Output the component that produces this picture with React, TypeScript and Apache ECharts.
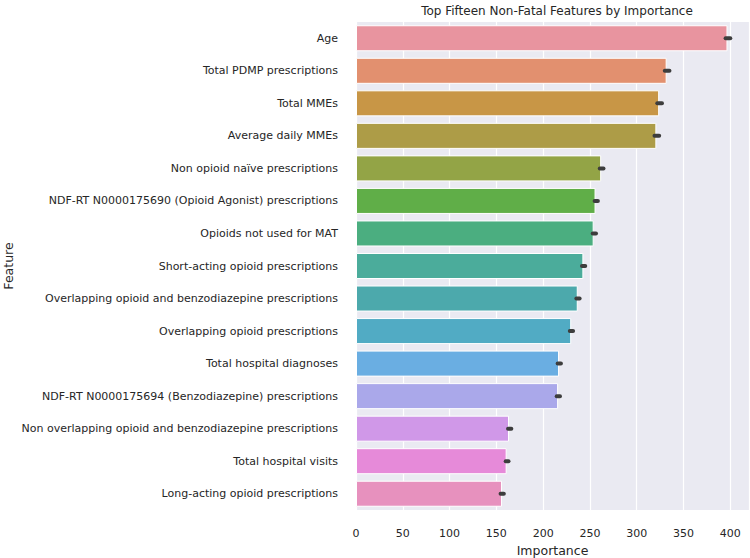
import React, { useEffect, useRef } from "react";
import * as echarts from "echarts";

const features: string[] = [
  "Age",
  "Total PDMP prescriptions",
  "Total MMEs",
  "Average daily MMEs",
  "Non opioid naïve prescriptions",
  "NDF-RT N0000175690 (Opioid Agonist) prescriptions",
  "Opioids not used for MAT",
  "Short-acting opioid prescriptions",
  "Overlapping opioid and benzodiazepine prescriptions",
  "Overlapping opioid prescriptions",
  "Total hospital diagnoses",
  "NDF-RT N0000175694 (Benzodiazepine) prescriptions",
  "Non overlapping opioid and benzodiazepine prescriptions",
  "Total hospital visits",
  "Long-acting opioid prescriptions",
];

const importance: number[] = [397, 332, 324, 321, 262, 256, 254, 243, 237, 230, 217, 216, 163.5, 161, 156];
const ciLow: number[] = [395, 330, 322, 319, 260.5, 255, 253, 241.5, 235.5, 228.5, 215.5, 214.5, 162.5, 160, 154.5];
const ciHigh: number[] = [400, 335, 327, 324, 264.5, 258.5, 256.5, 245, 239, 232, 219, 218, 166, 163, 158];

const barColors: string[] = [
  "#e8949f", "#e2906f", "#c89646", "#ad9c47", "#93a446",
  "#60ae48", "#4bae80", "#4bac9b", "#4ca9ac", "#51abc4",
  "#6aaee2", "#aaa8ea", "#d098e8", "#e68ad9", "#e791be",
];

const xTicks = { min: 0, max: 420, interval: 50 };

export default function App() {
  const ref = useRef<HTMLDivElement>(null);
  useEffect(() => {
    if (!ref.current) return;
    const chart = echarts.init(ref.current, undefined, { renderer: "svg" });
    const font = "DejaVu Sans";
    const txt = "#262626";
    chart.setOption({
      animation: false,
      textStyle: { fontFamily: font },
      title: {
        text: "Top Fifteen Non-Fatal Features by Importance",
        left: 552,
        textAlign: "center",
        top: 0,
        textStyle: { fontFamily: font, fontSize: 12, fontWeight: "normal", color: txt },
      },
      graphic: [
        {
          type: "text",
          x: 8,
          y: 266,
          rotation: Math.PI / 2,
          style: {
            text: "Feature",
            fontFamily: font,
            fontSize: 12.5,
            fill: txt,
            align: "center",
            verticalAlign: "middle",
          },
        },
      ],
      grid: {
        left: 356,
        right: 1,
        top: 22,
        bottom: 48,
        show: true,
        backgroundColor: "#eaeaf2",
        borderWidth: 0,
        containLabel: false,
        outerBoundsMode: "none",
      },
      xAxis: {
        type: "value",
        min: xTicks.min,
        max: xTicks.max,
        interval: xTicks.interval,
        name: "Importance",
        nameLocation: "middle",
        nameGap: 31,
        nameTextStyle: { fontFamily: font, fontSize: 12.5, color: txt },
        axisLine: { show: false },
        axisTick: { show: false },
        axisLabel: { fontFamily: font, fontSize: 11, color: txt, margin: 18, showMaxLabel: false },
        splitLine: { show: true, lineStyle: { color: "#ffffff", width: 1.2 } },
      },
      yAxis: {
        type: "category",
        data: features,
        inverse: true,
        axisLine: { show: false },
        axisTick: { show: false },
        axisLabel: { fontFamily: font, fontSize: 11, color: txt, margin: 18 },
        splitLine: { show: false },
      },
      series: [
        {
          type: "bar",
          barWidth: "80%",
          data: importance.map((v, i) => ({
            value: v,
            itemStyle: { color: barColors[i], borderColor: "#ffffff", borderWidth: 1 },
          })),
          z: 2,
        },
        {
          type: "custom",
          z: 3,
          data: features.map((_, i) => [ciLow[i], ciHigh[i], i]),
          renderItem: (params: any, api: any) => {
            const p1 = api.coord([api.value(0), api.value(2)]);
            const p2 = api.coord([api.value(1), api.value(2)]);
            return {
              type: "line",
              shape: { x1: p1[0], y1: p1[1], x2: p2[0], y2: p2[1] },
              style: { stroke: "#3d3d3d", lineWidth: 4, lineCap: "round" },
            };
          },
        },
      ],
    });
    return () => chart.dispose();
  }, []);
  return <div ref={ref} style={{ width: 750, height: 558, position: "absolute", left: 0, top: 0 }} />;
}
